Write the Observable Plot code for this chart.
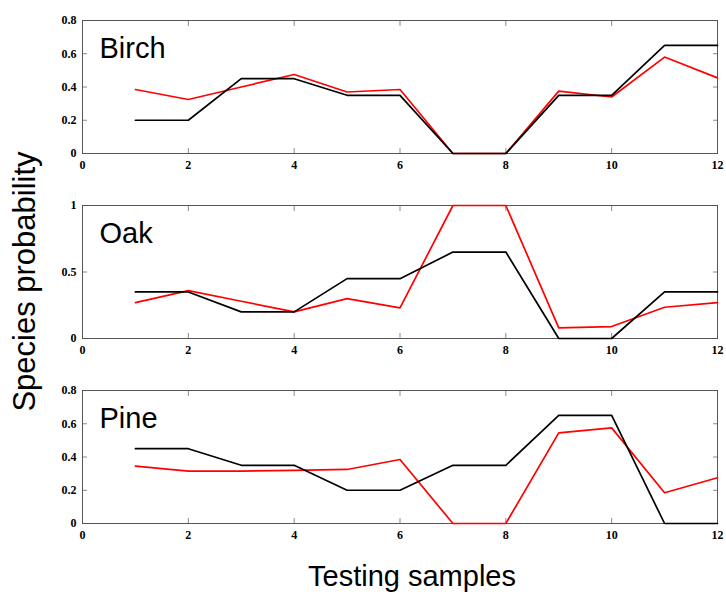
<!DOCTYPE html>
<html>
<head>
<meta charset="utf-8">
<script src="https://cdn.jsdelivr.net/npm/d3@7"></script>
<script src="https://cdn.jsdelivr.net/npm/@observablehq/plot@0.6"></script>
<style>
  body { margin: 0; background: #fff; }
  #fig { position: relative; width: 726px; height: 592px; background: #fff;
         font-family: "Liberation Sans", Arial, sans-serif; color: #000; }
  .panel { position: absolute; left: 0; }
  .title { position: absolute; text-align: center; white-space: nowrap; }
</style>
</head>
<body>
<div id="fig"></div>
<script>
// ---- data ----
const samples = [1, 2, 3, 4, 5, 6, 7, 8, 9, 10, 11, 12];
const xTicks = [0, 2, 4, 6, 8, 10, 12];

const species = ["Birch", "Oak", "Pine"];

const birchBlack = [0.20, 0.20, 0.45, 0.45, 0.35, 0.35, 0.00, 0.00, 0.35, 0.35, 0.65, 0.65];
const birchRed   = [0.385, 0.325, 0.40, 0.475, 0.37, 0.385, 0.00, 0.00, 0.375, 0.34, 0.58, 0.455];
const birchTicks = [0, 0.2, 0.4, 0.6, 0.8];

const oakBlack = [0.35, 0.35, 0.20, 0.20, 0.45, 0.45, 0.65, 0.65, 0.00, 0.00, 0.35, 0.35];
const oakRed   = [0.27, 0.36, 0.28, 0.20, 0.30, 0.23, 1.00, 1.00, 0.08, 0.09, 0.235, 0.27];
const oakTicks = [0, 0.5, 1];

const pineBlack = [0.45, 0.45, 0.35, 0.35, 0.20, 0.20, 0.35, 0.35, 0.65, 0.65, 0.00, 0.00];
const pineRed   = [0.345, 0.315, 0.315, 0.32, 0.325, 0.385, 0.00, 0.00, 0.545, 0.575, 0.185, 0.275];
const pineTicks = [0, 0.2, 0.4, 0.6, 0.8];

const xTitle = "Testing samples";
const yTitle = "Species probability";

// ---- drawing ----
const fig = document.getElementById("fig");
const tickFont = {fontFamily: "'Liberation Serif', serif", fontWeight: "bold", fontSize: 12};
const tickStroke = "#8a8a8a";

function rows(values) {
  return samples.map((x, i) => ({x, y: values[i]}));
}

function panel(name, black, red, yTicks, top) {
  const yMax = yTicks[yTicks.length - 1];
  const chart = Plot.plot({
    width: 726,
    height: 175,
    marginLeft: 82,
    marginRight: 9,
    marginTop: 20,
    marginBottom: 22,
    style: {background: "transparent", color: "#000"},
    x: {domain: [0, 12], label: null},
    y: {domain: [0, yMax], label: null},
    marks: [
      Plot.axisX(xTicks, {anchor: "bottom", tickSize: -5, tickPadding: 12, stroke: tickStroke,
        label: null, tickFormat: d => String(d), ...tickFont}),
      Plot.axisX(xTicks, {anchor: "top", tickSize: -5, stroke: tickStroke, label: null, tickFormat: () => ""}),
      Plot.axisY(yTicks, {anchor: "left", tickSize: -5, tickPadding: 11, stroke: tickStroke,
        label: null, tickFormat: d => String(d), ...tickFont}),
      Plot.axisY(yTicks, {anchor: "right", tickSize: -5, stroke: tickStroke, label: null, tickFormat: () => ""}),
      Plot.frame({stroke: "#555"}),
      Plot.line(rows(red), {x: "x", y: "y", stroke: "#ff0000", strokeWidth: 1.7}),
      Plot.line(rows(black), {x: "x", y: "y", stroke: "#000", strokeWidth: 1.7}),
      Plot.text([name], {text: d => d, frameAnchor: "top-left", textAnchor: "start", lineAnchor: "top",
        dx: 17, dy: 17, fontSize: 29, fontFamily: "'Liberation Sans', Arial, sans-serif", fill: "#000"})
    ]
  });
  chart.classList.add("panel");
  chart.style.top = top + "px";
  fig.appendChild(chart);
}

panel(species[0], birchBlack, birchRed, birchTicks, 0);
panel(species[1], oakBlack, oakRed, oakTicks, 185);
panel(species[2], pineBlack, pineRed, pineTicks, 370);

const xt = document.createElement("div");
xt.className = "title";
xt.textContent = xTitle;
xt.style.fontSize = "29px";
xt.style.lineHeight = "29px";
xt.style.left = (412 - 200) + "px";
xt.style.width = "400px";
xt.style.top = "562px";
fig.appendChild(xt);

const yt = document.createElement("div");
yt.className = "title";
yt.textContent = yTitle;
yt.style.fontSize = "31px";
yt.style.lineHeight = "31px";
yt.style.width = "320px";
yt.style.left = (24 - 160) + "px";
yt.style.top = (281 - 15.5) + "px";
yt.style.transform = "rotate(-90deg)";
fig.appendChild(yt);
</script>
</body>
</html>
